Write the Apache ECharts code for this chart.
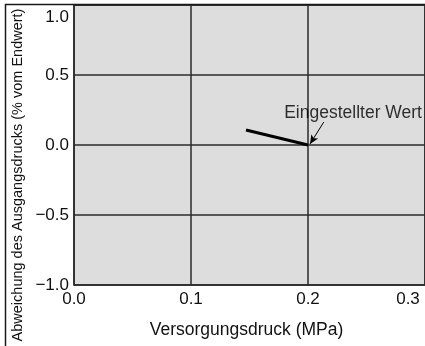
<!DOCTYPE html>
<html><head><meta charset="utf-8">
<script src="https://cdn.jsdelivr.net/npm/echarts@6/dist/echarts.min.js"></script>
<style>html,body{margin:0;padding:0;background:#fff}#c{width:425px;height:346px}</style>
</head><body><div id="c"></div>
<script>
// Data
const supplyPressure = [0.147, 0.2];      // MPa
const deviation = [0.107, 0.0];           // % of full scale
const xTicks = [0.0, 0.1, 0.2, 0.3];
const yTicks = [-1.0, -0.5, 0.0, 0.5, 1.0];
const annotationText = 'Eingestellter Wert';
const annotationLabelAt = [0.2385, 0.224];
const arrowFrom = [0.2135, 0.164];
const arrowTo = [0.2017, 0.007];
const xTitle = 'Versorgungsdruck (MPa)';
const yTitle = 'Abweichung des Ausgangsdrucks (% vom Endwert)';

const FONT = "'Liberation Sans', Arial, Helvetica, sans-serif";
const fmt = v => v.toFixed(1).replace('-', '\u2212');

const chart = echarts.init(document.getElementById('c'), null, {renderer: 'canvas'});
const option = {
  animation: false,
  backgroundColor: '#ffffff',
  grid: {
    left: 74, top: 5, right: -4, bottom: 61,
    show: true, backgroundColor: '#dddddd', borderColor: '#222', borderWidth: 1.5,
    containLabel: false
  },
  xAxis: {
    type: 'value', min: xTicks[0], max: xTicks[xTicks.length - 1], interval: 0.1,
    axisLine: {show: false}, axisTick: {show: false},
    splitLine: {show: true, lineStyle: {color: '#2a2a2a', width: 1.5}},
    axisLabel: {
      margin: 6, fontSize: 17, color: '#111', fontFamily: FONT,
      formatter: v => v >= xTicks[xTicks.length - 1] - 1e-9 ? '{r|' + fmt(v) + '}' : fmt(v),
      rich: {r: {padding: [0, 34, 0, 0], fontSize: 17, color: '#111', fontFamily: FONT}}
    },
    name: xTitle, nameLocation: 'middle', nameGap: 36,
    nameTextStyle: {fontSize: 17.5, color: '#111', fontFamily: FONT, padding: [0, 6, 0, 0]}
  },
  yAxis: {
    type: 'value', min: yTicks[0], max: yTicks[yTicks.length - 1], interval: 0.5,
    axisLine: {show: false}, axisTick: {show: false},
    splitLine: {show: true, lineStyle: {color: '#2a2a2a', width: 1.5}},
    axisLabel: {
      margin: 5, fontSize: 17, color: '#111', fontFamily: FONT,
      formatter: v => v >= yTicks[yTicks.length - 1] - 1e-9 ? '{t|' + fmt(v) + '}' : fmt(v),
      rich: {t: {padding: [24, 0, 0, 0], fontSize: 17, color: '#111', fontFamily: FONT}}
    }
  },
  graphic: [
    {type: 'polyline', silent: true, z: 100,
     shape: {points: [[5.5, 346], [5.5, 4.5], [425, 4.5]]},
     style: {stroke: '#1a1a1a', lineWidth: 1.5, fill: null}},
    {type: 'text', x: 18, y: 175, rotation: Math.PI / 2, silent: true,
     style: {text: yTitle, fontSize: 14.5, fill: '#111', fontFamily: FONT,
             align: 'center', verticalAlign: 'middle'}}
  ],
  series: [
    {
      type: 'line', data: supplyPressure.map((x, i) => [x, deviation[i]]),
      showSymbol: false, symbol: 'none',
      lineStyle: {color: '#000', width: 3}, z: 5
    },
    {
      type: 'scatter', data: [annotationLabelAt], symbolSize: 0, silent: true,
      label: {show: true, position: 'inside', formatter: annotationText,
              fontSize: 17.5, color: '#000', fontFamily: FONT},
      markLine: {
        silent: true, symbol: ['none', 'arrow'], symbolSize: [6, 9],
        lineStyle: {color: '#000', width: 1, type: 'solid'},
        label: {show: false},
        data: [[{coord: arrowFrom}, {coord: arrowTo}]]
      }
    }
  ]
};
chart.setOption(option);
</script></body></html>
